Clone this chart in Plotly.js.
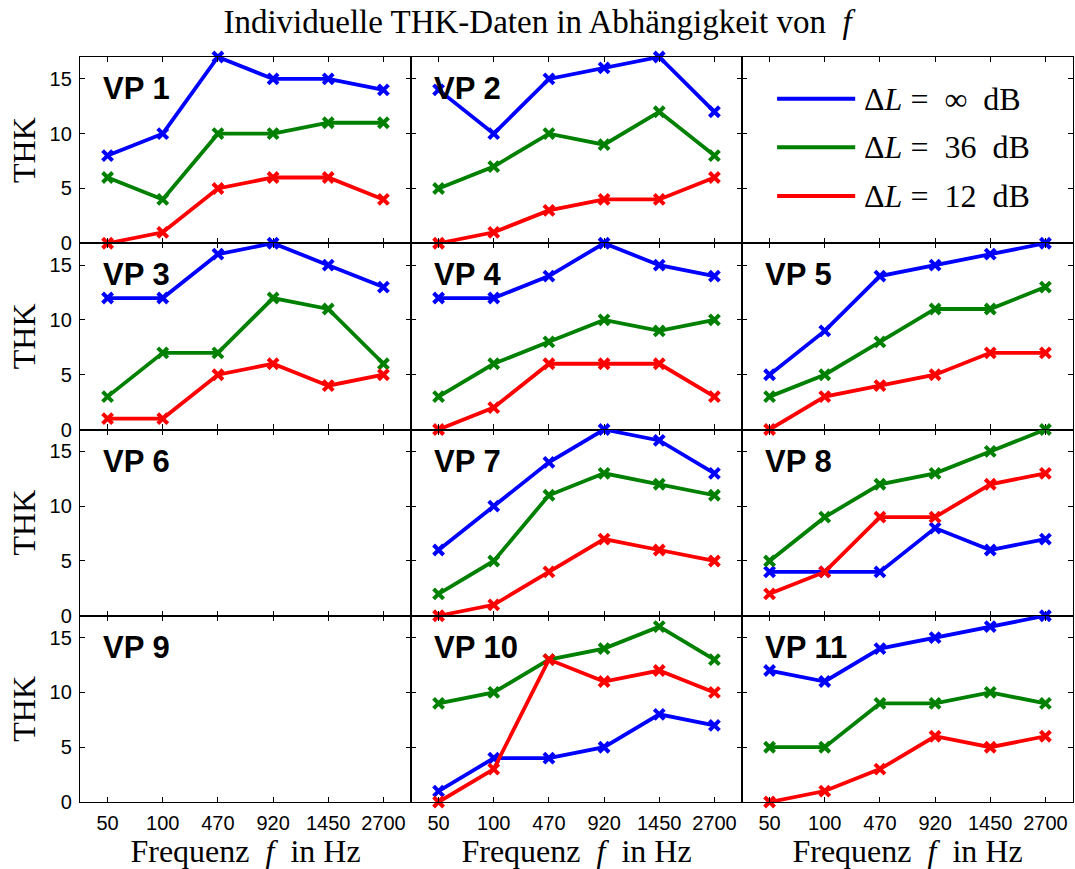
<!DOCTYPE html>
<html>
<head>
<meta charset="utf-8">
<script src="https://cdn.plot.ly/plotly-3.0.1.min.js"></script>
<style>
  html, body { margin: 0; padding: 0; background: #fff; }
  #chart { width: 1075px; height: 869px; }
</style>
</head>
<body>
<div id="chart"></div>
<script>
// Frequencies (categories on the x axis)
const freqLabels = ['50', '100', '470', '920', '1450', '2700'];

// Series: level difference ΔL
const seriesNames = ['ΔL = ∞ dB', 'ΔL = 36 dB', 'ΔL = 12 dB'];
const seriesLabels = [
  'Δ<i>L</i>&nbsp;=&nbsp;&nbsp;∞&nbsp;&nbsp;dB',
  'Δ<i>L</i>&nbsp;=&nbsp;&nbsp;36&nbsp;&nbsp;dB',
  'Δ<i>L</i>&nbsp;=&nbsp;&nbsp;12&nbsp;&nbsp;dB'
];
const seriesColors = ['#0000ff', '#008000', '#ff0000'];

// THK values per subject (VP): [ΔL=∞, ΔL=36, ΔL=12]
const vp1  = [[8, 10, 17, 15, 15, 14], [6, 4, 10, 10, 11, 11], [0, 1, 5, 6, 6, 4]];
const vp2  = [[14, 10, 15, 16, 17, 12], [5, 7, 10, 9, 12, 8], [0, 1, 3, 4, 4, 6]];
const vp3  = [[12, 12, 16, 17, 15, 13], [3, 7, 7, 12, 11, 6], [1, 1, 5, 6, 4, 5]];
const vp4  = [[12, 12, 14, 17, 15, 14], [3, 6, 8, 10, 9, 10], [0, 2, 6, 6, 6, 3]];
const vp5  = [[5, 9, 14, 15, 16, 17], [3, 5, 8, 11, 11, 13], [0, 3, 4, 5, 7, 7]];
const vp6  = null;
const vp7  = [[6, 10, 14, 17, 16, 13], [2, 5, 11, 13, 12, 11], [0, 1, 4, 7, 6, 5]];
const vp8  = [[4, 4, 4, 8, 6, 7], [5, 9, 12, 13, 15, 17], [2, 4, 9, 9, 12, 13]];
const vp9  = null;
const vp10 = [[1, 4, 4, 5, 8, 7], [9, 10, 13, 14, 16, 13], [0, 3, 13, 11, 12, 10]];
const vp11 = [[12, 11, 14, 15, 16, 17], [5, 5, 9, 9, 10, 9], [0, 1, 3, 6, 5, 6]];

// Panel order in the 4x3 grid; 'legend' marks the key panel
const panels = [
  {name: 'VP 1', data: vp1},  {name: 'VP 2', data: vp2},  {name: 'legend', data: null},
  {name: 'VP 3', data: vp3},  {name: 'VP 4', data: vp4},  {name: 'VP 5', data: vp5},
  {name: 'VP 6', data: vp6},  {name: 'VP 7', data: vp7},  {name: 'VP 8', data: vp8},
  {name: 'VP 9', data: vp9},  {name: 'VP 10', data: vp10}, {name: 'VP 11', data: vp11}
];

const nRows = 4, nCols = 3;
const yMax = 17;
const serif = 'Liberation Serif, Times New Roman, serif';
const sans = 'Liberation Sans, Arial, Helvetica, sans-serif';
const xIdx = freqLabels.map((_, i) => i);

const traces = [];
const annotations = [];
const shapes = [];
const layout = {
  width: 1075,
  height: 869,
  margin: {l: 80, r: 2, t: 57, b: 67, pad: 0},
  paper_bgcolor: '#ffffff',
  plot_bgcolor: '#ffffff',
  showlegend: false,
  title: {
    text: 'Individuelle THK-Daten in Abhängigkeit von&nbsp;&nbsp;<i>f</i>',
    font: {family: serif, size: 33, color: '#000'},
    x: 0.5, xref: 'container', xanchor: 'center',
    y: 1 - 21 / 869, yref: 'container', yanchor: 'middle'
  }
};

panels.forEach((p, k) => {
  const r = Math.floor(k / nCols), c = k % nCols;
  const id = k === 0 ? '' : String(k + 1);
  const xa = 'x' + id, ya = 'y' + id;
  const bottom = r === nRows - 1, left = c === 0;

  layout['xaxis' + id] = {
    domain: [c / nCols, (c + 1) / nCols],
    anchor: ya,
    range: [-0.5, 5.5],
    tickmode: 'array',
    tickvals: xIdx,
    ticktext: freqLabels,
    showticklabels: bottom,
    ticks: 'inside', ticklen: 5, tickwidth: 1.2, tickcolor: '#000',
    showline: true, linecolor: '#000', linewidth: 1.4, mirror: 'ticks',
    showgrid: false, zeroline: false, fixedrange: true,
    tickfont: {family: sans, size: 20, color: '#000'},
    ticklabelstandoff: 3,
    title: bottom
      ? {text: 'Frequenz&nbsp;&nbsp;<i>f</i>&nbsp;&nbsp;in Hz', font: {family: serif, size: 32, color: '#000'}, standoff: 2}
      : {text: ''}
  };
  layout['yaxis' + id] = {
    domain: [1 - (r + 1) / nRows, 1 - r / nRows],
    anchor: xa,
    range: [0, yMax],
    tickmode: 'array',
    tickvals: [0, 5, 10, 15],
    showticklabels: left,
    ticks: 'inside', ticklen: 5, tickwidth: 1.2, tickcolor: '#000',
    showline: true, linecolor: '#000', linewidth: 1.4, mirror: 'ticks',
    showgrid: false, zeroline: false, fixedrange: true,
    tickfont: {family: sans, size: 20, color: '#000'},
    ticklabelstandoff: 3,
    title: left ? {text: 'THK', font: {family: serif, size: 32, color: '#000'}, standoff: 4} : {text: ''}
  };

  // an empty trace keeps panels without data on the page
  if (!p.data) {
    traces.push({
      type: 'scatter', mode: 'lines', x: [], y: [],
      xaxis: xa, yaxis: ya, hoverinfo: 'skip', showlegend: false
    });
  }

  if (p.name === 'legend') {
    // Key: coloured line samples with series labels
    const rowsY = [0.776, 0.516, 0.254];
    seriesLabels.forEach((lab, s) => {
      shapes.push({
        type: 'line', xref: xa + ' domain', yref: ya + ' domain',
        x0: 0.106, x1: 0.342, y0: rowsY[s], y1: rowsY[s],
        line: {color: seriesColors[s], width: 4}
      });
      annotations.push({
        xref: xa + ' domain', yref: ya + ' domain',
        x: 0.362, y: rowsY[s], xanchor: 'left', yanchor: 'middle',
        text: lab, showarrow: false,
        font: {family: serif, size: 32, color: '#000'}
      });
    });
    return;
  }

  if (p.data) {
    p.data.forEach((vals, s) => {
      traces.push({
        type: 'scatter', mode: 'lines+markers',
        name: seriesNames[s],
        x: xIdx, y: vals,
        xaxis: xa, yaxis: ya,
        cliponaxis: false,
        line: {color: seriesColors[s], width: 3.8},
        marker: {symbol: 'x-thin', size: 10, color: seriesColors[s],
                 line: {color: seriesColors[s], width: 4}},
        hoverinfo: 'x+y+name'
      });
    });
  }

  annotations.push({
    xref: xa + ' domain', yref: ya + ' domain',
    x: 0.063, y: 0.83, xanchor: 'left', yanchor: 'middle',
    text: '<b>' + p.name + '</b>', showarrow: false,
    font: {family: sans, size: 31, color: '#000'}
  });
});

layout.annotations = annotations;
layout.shapes = shapes;

Plotly.newPlot('chart', traces, layout, {displayModeBar: false});
</script>
</body>
</html>
